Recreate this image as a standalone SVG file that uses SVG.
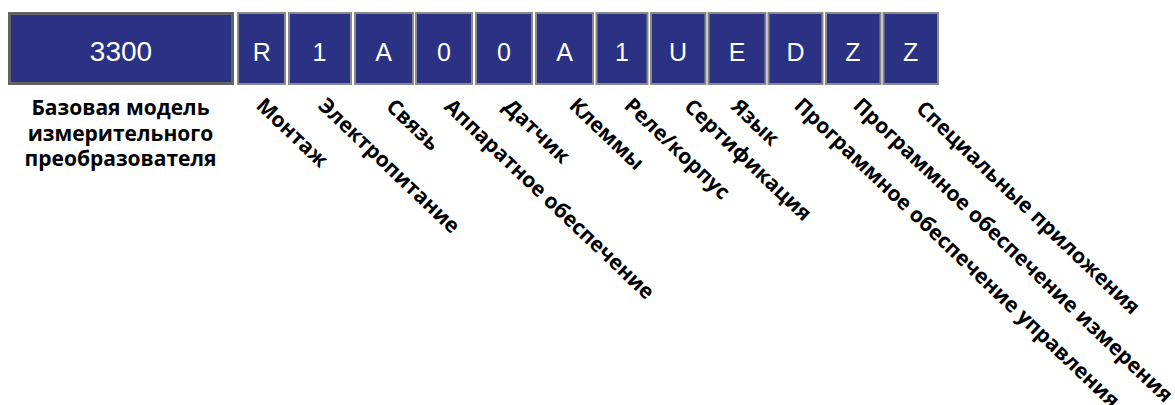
<svg xmlns="http://www.w3.org/2000/svg" width="1175" height="405" viewBox="0 0 1175 405">
<style>
.box{fill:#2B3183;stroke:#8a8a8a;stroke-width:2}
.base{fill:#2B3183;stroke:#626262;stroke-width:3}
.code{font-family:"Liberation Sans",Arial,sans-serif;font-size:25px;fill:#ffffff;text-anchor:middle}
.big{font-size:28px}
.lbl{font-family:"Open Sans","Noto Sans",sans-serif;font-weight:700;font-size:21px;fill:#000000}
.mid{text-anchor:middle}
</style>
<rect width="1175" height="405" fill="#ffffff"/>
<g id="base">
<rect class="base" x="9.5" y="13.5" width="223" height="70"/>
<text class="code big" x="121" y="61">3300</text>
</g>
<g id="c1"><rect class="box" x="238" y="13" width="47" height="71"/><text class="code" x="261.7" y="61">R</text></g>
<g id="c2"><rect class="box" x="289" y="13" width="62" height="71"/><text class="code" x="319.5" y="61">1</text></g>
<g id="c3"><rect class="box" x="355" y="13" width="58" height="71"/><text class="code" x="383.5" y="61">A</text></g>
<g id="c4"><rect class="box" x="416" y="13" width="56" height="71"/><text class="code" x="444" y="61">0</text></g>
<g id="c5"><rect class="box" x="476" y="13" width="56" height="71"/><text class="code" x="504" y="61">0</text></g>
<g id="c6"><rect class="box" x="536" y="13" width="57" height="71"/><text class="code" x="564.5" y="61">A</text></g>
<g id="c7"><rect class="box" x="596.5" y="13" width="51" height="71"/><text class="code" x="622" y="61">1</text></g>
<g id="c8"><rect class="box" x="651" y="13" width="54.5" height="71"/><text class="code" x="678" y="61">U</text></g>
<g id="c9"><rect class="box" x="708.5" y="13" width="57" height="71"/><text class="code" x="737" y="61">E</text></g>
<g id="c10"><rect class="box" x="768.5" y="13" width="54" height="71"/><text class="code" x="795.5" y="61">D</text></g>
<g id="c11"><rect class="box" x="826" y="13" width="54.5" height="71"/><text class="code" x="853" y="61">Z</text></g>
<g id="c12"><rect class="box" x="883.5" y="13" width="54.5" height="71"/><text class="code" x="910.7" y="61">Z</text></g>
<g id="labels">
<text class="lbl mid" x="120.5" y="115">Базовая модель</text>
<text class="lbl mid" x="120.5" y="140.5">измерительного</text>
<text class="lbl mid" x="120.5" y="166">преобразователя</text>
<text class="lbl" transform="translate(255,107) rotate(43.5)">Монтаж</text>
<text class="lbl" transform="translate(317,107) rotate(43.5)">Электропитание</text>
<text class="lbl" transform="translate(385,108) rotate(43.5)">Связь</text>
<text class="lbl" transform="translate(443,108) rotate(43.5)">Аппаратное обеспечение</text>
<text class="lbl" transform="translate(502,108) rotate(43.5)">Датчик</text>
<text class="lbl" transform="translate(568,107) rotate(43.5)">Клеммы</text>
<text class="lbl" transform="translate(623,107) rotate(43.5)">Реле/корпус</text>
<text class="lbl" transform="translate(683,108) rotate(43.5)">Сертификация</text>
<text class="lbl" transform="translate(730,108) rotate(43.5)">Язык</text>
<text class="lbl" transform="translate(793,107) rotate(43.5)">Программное обеспечение управления</text>
<text class="lbl" transform="translate(852,107) rotate(43.5)">Программное обеспечение измерения</text>
<text class="lbl" transform="translate(915,110) rotate(43.5)">Специальные приложения</text>
</g>
</svg>
